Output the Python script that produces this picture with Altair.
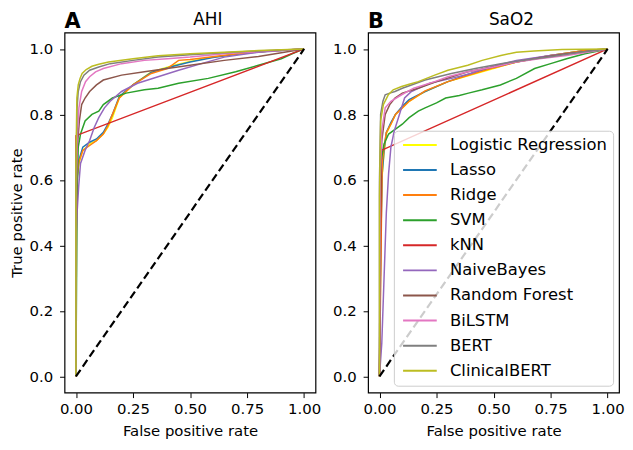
import altair as alt
import pandas as pd

models = ["Logistic Regression", "Lasso", "Ridge", "SVM", "kNN", "NaiveBayes",
          "Random Forest", "BiLSTM", "BERT", "ClinicalBERT"]
colors = ["#ffff00", "#1f77b4", "#ff7f0e", "#2ca02c", "#d62728", "#9467bd",
          "#8c564b", "#e377c2", "#7f7f7f", "#bcbd22"]
panel_letters = ["A", "B"]
panel_titles = ["AHI", "SaO2"]
x_ticks = [0, 0.25, 0.5, 0.75, 1.0]
y_ticks = [0, 0.2, 0.4, 0.6, 0.8, 1.0]
diag_x = [0, 1]
diag_y = [0, 1]

# ---- Panel A (AHI) ROC curves: fpr, tpr ----
lr_a_x = [0, 0, 0.005, 0.013, 0.03, 0.06, 0.09, 0.12, 0.14, 0.16, 0.19, 0.25, 0.33, 0.43, 0.5, 0.6, 0.72, 0.85, 1]
lr_a_y = [0, 0.45, 0.6, 0.65, 0.69, 0.71, 0.72, 0.74, 0.76, 0.79, 0.85, 0.89, 0.93, 0.95, 0.962, 0.975, 0.986, 0.994, 1]
lasso_a_x = [0, 0, 0.005, 0.013, 0.03, 0.06, 0.09, 0.12, 0.14, 0.16, 0.19, 0.25, 0.33, 0.43, 0.5, 0.6, 0.72, 0.85, 1]
lasso_a_y = [0, 0.46, 0.6, 0.66, 0.7, 0.715, 0.725, 0.745, 0.77, 0.8, 0.855, 0.89, 0.928, 0.948, 0.96, 0.974, 0.985, 0.994, 1]
ridge_a_x = [0, 0, 0.005, 0.013, 0.03, 0.06, 0.09, 0.12, 0.14, 0.16, 0.19, 0.25, 0.33, 0.4, 0.45, 0.5, 0.6, 0.72, 0.85, 1]
ridge_a_y = [0, 0.5, 0.61, 0.655, 0.69, 0.705, 0.72, 0.74, 0.765, 0.8, 0.85, 0.89, 0.925, 0.94, 0.965, 0.968, 0.976, 0.986, 0.994, 1]
svm_a_x = [0, 0.005, 0.01, 0.02, 0.04, 0.07, 0.1, 0.12, 0.16, 0.22, 0.3, 0.36, 0.45, 0.58, 0.7, 0.8, 0.9, 0.95, 1]
svm_a_y = [0, 0.55, 0.7, 0.74, 0.78, 0.8, 0.81, 0.83, 0.85, 0.865, 0.875, 0.88, 0.895, 0.91, 0.93, 0.95, 0.97, 0.986, 1]
knn_a_x = [0, 0, 1]
knn_a_y = [0, 0.735, 1]
nb_a_x = [0, 0, 0.005, 0.012, 0.02, 0.04, 0.06, 0.08, 0.1, 0.125, 0.15, 0.2, 0.27, 0.36, 0.45, 0.55, 0.65, 0.8, 1]
nb_a_y = [0, 0.42, 0.5, 0.58, 0.65, 0.69, 0.72, 0.76, 0.79, 0.82, 0.84, 0.87, 0.895, 0.915, 0.935, 0.955, 0.975, 0.99, 1]
rf_a_x = [0, 0.003, 0.006, 0.015, 0.025, 0.04, 0.06, 0.09, 0.12, 0.2, 0.3, 0.4, 0.5, 0.65, 0.8, 0.9, 1]
rf_a_y = [0, 0.6, 0.7, 0.78, 0.83, 0.85, 0.87, 0.89, 0.905, 0.92, 0.93, 0.94, 0.95, 0.965, 0.977, 0.988, 1]
bilstm_a_x = [0, 0, 0.005, 0.013, 0.025, 0.042, 0.06, 0.086, 0.12, 0.2, 0.3, 0.4, 0.5, 0.65, 0.8, 1]
bilstm_a_y = [0, 0.5, 0.72, 0.82, 0.87, 0.9, 0.915, 0.93, 0.94, 0.955, 0.965, 0.97, 0.975, 0.985, 0.992, 1]
bert_a_x = [0, 0, 0.005, 0.01, 0.02, 0.035, 0.06, 0.1, 0.15, 0.25, 0.36, 0.5, 0.65, 0.8, 1]
bert_a_y = [0, 0.6, 0.82, 0.87, 0.9, 0.92, 0.935, 0.945, 0.955, 0.965, 0.975, 0.982, 0.988, 0.994, 1]
cbert_a_x = [0, 0, 0.004, 0.01, 0.018, 0.027, 0.045, 0.07, 0.1, 0.143, 0.25, 0.36, 0.5, 0.65, 0.8, 1]
cbert_a_y = [0, 0.65, 0.85, 0.89, 0.91, 0.925, 0.937, 0.947, 0.953, 0.96, 0.97, 0.979, 0.985, 0.99, 0.995, 1]

# ---- Panel B (SaO2) ROC curves: fpr, tpr ----
lr_b_x = [0, 0.005, 0.01, 0.02, 0.03, 0.05, 0.07, 0.1, 0.13, 0.2, 0.3, 0.4, 0.5, 0.6, 0.75, 0.9, 1]
lr_b_y = [0, 0.4, 0.6, 0.68, 0.74, 0.77, 0.8, 0.82, 0.84, 0.87, 0.9, 0.92, 0.94, 0.96, 0.98, 0.995, 1]
lasso_b_x = [0, 0.006, 0.012, 0.02, 0.03, 0.05, 0.07, 0.1, 0.13, 0.2, 0.3, 0.4, 0.5, 0.6, 0.75, 0.9, 1]
lasso_b_y = [0, 0.42, 0.62, 0.69, 0.745, 0.775, 0.8, 0.825, 0.845, 0.87, 0.9, 0.925, 0.945, 0.962, 0.98, 0.995, 1]
ridge_b_x = [0, 0.008, 0.012, 0.02, 0.03, 0.05, 0.07, 0.1, 0.13, 0.2, 0.3, 0.4, 0.5, 0.6, 0.75, 0.9, 1]
ridge_b_y = [0, 0.45, 0.65, 0.7, 0.745, 0.77, 0.8, 0.82, 0.84, 0.872, 0.9, 0.922, 0.942, 0.96, 0.98, 0.995, 1]
svm_b_x = [0, 0.003, 0.008, 0.02, 0.04, 0.07, 0.1, 0.13, 0.17, 0.2, 0.25, 0.29, 0.35, 0.39, 0.45, 0.53, 0.6, 0.68, 0.75, 0.82, 0.9, 0.97, 1]
svm_b_y = [0, 0.5, 0.66, 0.71, 0.74, 0.755, 0.77, 0.79, 0.81, 0.82, 0.835, 0.85, 0.858, 0.865, 0.875, 0.89, 0.91, 0.94, 0.955, 0.97, 0.985, 0.995, 1]
knn_b_x = [0, 0.008, 1]
knn_b_y = [0, 0.69, 1]
nb_b_x = [0, 0.01, 0.02, 0.03, 0.04, 0.05, 0.065, 0.083, 0.11, 0.14, 0.17, 0.22, 0.315, 0.4, 0.46, 0.6, 0.75, 0.82, 1]
nb_b_y = [0, 0.1, 0.3, 0.5, 0.62, 0.7, 0.75, 0.79, 0.85, 0.87, 0.88, 0.895, 0.91, 0.925, 0.94, 0.965, 0.98, 0.985, 1]
rf_b_x = [0, 0.005, 0.01, 0.025, 0.045, 0.068, 0.1, 0.17, 0.25, 0.387, 0.5, 0.6, 0.7, 0.82, 1]
rf_b_y = [0, 0.6, 0.72, 0.8, 0.83, 0.85, 0.865, 0.88, 0.9, 0.93, 0.945, 0.96, 0.972, 0.985, 1]
bilstm_b_x = [0, 0.003, 0.01, 0.025, 0.05, 0.097, 0.15, 0.242, 0.3, 0.387, 0.5, 0.6, 0.7, 0.82, 1]
bilstm_b_y = [0, 0.6, 0.75, 0.82, 0.84, 0.86, 0.88, 0.9, 0.915, 0.93, 0.945, 0.96, 0.97, 0.98, 1]
bert_b_x = [0, 0, 0.005, 0.015, 0.025, 0.045, 0.068, 0.1, 0.14, 0.2, 0.315, 0.42, 0.532, 0.65, 0.75, 0.88, 1]
bert_b_y = [0, 0.6, 0.8, 0.84, 0.86, 0.865, 0.87, 0.88, 0.89, 0.905, 0.925, 0.94, 0.955, 0.967, 0.976, 0.99, 1]
cbert_b_x = [0, 0, 0.005, 0.017, 0.039, 0.06, 0.097, 0.13, 0.17, 0.242, 0.3, 0.387, 0.45, 0.532, 0.6, 0.677, 0.8, 1]
cbert_b_y = [0, 0.55, 0.78, 0.83, 0.86, 0.875, 0.885, 0.892, 0.9, 0.92, 0.935, 0.95, 0.965, 0.98, 0.99, 0.994, 0.998, 1]

curves_a = [(lr_a_x, lr_a_y), (lasso_a_x, lasso_a_y), (ridge_a_x, ridge_a_y), (svm_a_x, svm_a_y),
            (knn_a_x, knn_a_y), (nb_a_x, nb_a_y), (rf_a_x, rf_a_y), (bilstm_a_x, bilstm_a_y),
            (bert_a_x, bert_a_y), (cbert_a_x, cbert_a_y)]
curves_b = [(lr_b_x, lr_b_y), (lasso_b_x, lasso_b_y), (ridge_b_x, ridge_b_y), (svm_b_x, svm_b_y),
            (knn_b_x, knn_b_y), (nb_b_x, nb_b_y), (rf_b_x, rf_b_y), (bilstm_b_x, bilstm_b_y),
            (bert_b_x, bert_b_y), (cbert_b_x, cbert_b_y)]


def to_frame(curves):
    rows = []
    for m, (xs, ys) in zip(models, curves):
        for i, (xv, yv) in enumerate(zip(xs, ys)):
            rows.append({"model": m, "fpr": xv, "tpr": yv, "i": i})
    return pd.DataFrame(rows)


FONT = "DejaVu Sans"
W, H = 253, 363


def panel(curves, letter, title, show_ytitle, legend):
    df = to_frame(curves)
    xscale = alt.Scale(domain=[-0.05, 1.05], nice=False, zero=False)
    yscale = alt.Scale(domain=[-0.05, 1.05], nice=False, zero=False)
    xaxis = alt.Axis(values=x_ticks, format=".2f", title="False positive rate")
    yaxis = alt.Axis(values=y_ticks, format=".1f",
                     title="True positive rate" if show_ytitle else "")
    lines = alt.Chart(df).mark_line(strokeWidth=1.5, clip=True).encode(
        x=alt.X("fpr:Q", scale=xscale, axis=xaxis),
        y=alt.Y("tpr:Q", scale=yscale, axis=yaxis),
        color=alt.Color("model:N", scale=alt.Scale(domain=models, range=colors),
                        legend=legend, sort=models),
        order=alt.Order("i:Q"),
    )
    diag = alt.Chart(pd.DataFrame({"fpr": diag_x, "tpr": diag_y})).mark_line(
        color="black", strokeWidth=2.2, strokeDash=[8, 4]
    ).encode(x=alt.X("fpr:Q", scale=xscale), y=alt.Y("tpr:Q", scale=yscale))
    letter_txt = alt.Chart(pd.DataFrame({"t": [letter]})).mark_text(
        align="left", baseline="alphabetic", fontSize=21, fontWeight="bold",
        font=FONT, color="black"
    ).encode(text="t:N", x=alt.value(0), y=alt.value(-5))
    title_txt = alt.Chart(pd.DataFrame({"t": [title]})).mark_text(
        align="center", baseline="alphabetic", fontSize=17, font=FONT, color="black"
    ).encode(text="t:N", x=alt.value(W / 2 + 18), y=alt.value(-8))
    return alt.layer(lines, diag, letter_txt, title_txt).properties(width=W, height=H)


legend_b = alt.Legend(
    orient="none", legendX=26, legendY=99, title=None,
    symbolType="M-4,0H4", symbolSize=72, symbolStrokeWidth=2,
    symbolOffset=12, labelOffset=22,
    labelFontSize=16.5, labelFont=FONT, rowPadding=8.3,
    padding=6, fillColor="rgba(255,255,255,0.8)", strokeColor="#cccccc",
    cornerRadius=4,
)

pa = panel(curves_a, panel_letters[0], panel_titles[0], True, None)
pb = panel(curves_b, panel_letters[1], panel_titles[1], False, legend_b)

chart = alt.hconcat(pa, pb, spacing=53, bounds="flush").resolve_scale(
    color="independent").resolve_legend(color="independent").configure_view(
    stroke="black", strokeWidth=1.2).configure_axis(
    domain=False, grid=False, tickColor="black", tickSize=5, tickWidth=1,
    labelFont=FONT, titleFont=FONT, labelFontSize=15, titleFontSize=15,
    labelColor="black", titleColor="black", titleFontWeight="normal",
    labelPadding=4, titlePadding=7,
).configure_axisY(labelPadding=7, titlePadding=5).properties(
    padding={"left": 0, "top": 0, "right": 0, "bottom": 0})

chart.save("out.html", embed_options={"renderer": "svg", "actions": False})
